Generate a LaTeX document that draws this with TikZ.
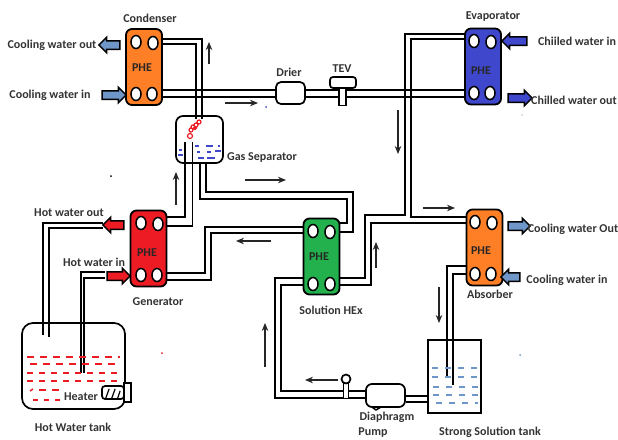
\documentclass[tikz,border=0pt]{standalone}
\usepackage{fontspec}
\setmainfont{Carlito}
\definecolor{phered}{RGB}{237,28,36}
\definecolor{pheorange}{RGB}{255,127,39}
\definecolor{pheblue}{RGB}{63,72,204}
\definecolor{phegreen}{RGB}{34,177,76}
\definecolor{waterblue}{RGB}{110,150,200}
\usetikzlibrary{arrows.meta,shapes.geometric,shapes.arrows,backgrounds}
\tikzset{
  phe/.style={draw=black, line width=1.8pt, rounded corners=6pt, minimum width=36, minimum height=76, inner sep=0pt},
  phetext/.style={inner sep=0pt, font=\bfseries\fontsize{12}{13}\selectfont, text=black!85},
  port/.style={ellipse, draw=black, line width=1.5pt, fill=white, minimum width=10, minimum height=13, inner sep=0pt},
  pipe/.style={line width=1.7pt, black},
  vessel/.style={draw=black, line width=1.7pt, inner sep=0pt},
  flowarrow/.style={-{Stealth[length=8pt, width=6.5pt]}, line width=1.2pt, black!85},
  blockarr/.style={single arrow, draw=black, line width=1.5pt, inner xsep=0pt, inner ysep=3.5pt, single arrow head extend=3.5pt, single arrow head indent=0pt},
  lbl/.style={font=\bfseries\fontsize{12}{13}\selectfont, text=black!80, inner sep=0pt},
}
\begin{document}
\begin{tikzpicture}[x=1pt, y=-1pt]
\useasboundingbox (0,0) rectangle (618,439);

% --- Plate heat exchangers ---
\node[phe, fill=pheorange] (cond) at (144,67) {};
\node[phe, fill=pheblue] (evap) at (483,66.5) {};
\node[phe, fill=phered] (genr) at (148.5,248.5) {};
\node[phe, fill=phegreen] (shex) at (321.5,256.5) {};
\node[phe, fill=pheorange] (absb) at (484.5,247.5) {};

% PHE text
\node[phetext] (condt) at (142,68) {PHE};
\node[phetext] (evapt) at (481,71) {PHE};
\node[phetext] (genrt) at (147,253) {PHE};
\node[phetext] (shext) at (319,257) {PHE};
\node[phetext] (absbt) at (481,251) {PHE};

% Ports
\node[port] (cond1) at (136,42) {};
\node[port] (cond2) at (153,43) {};
\node[port] (cond3) at (136,94) {};
\node[port] (cond4) at (152,94) {};
\node[port] (evap1) at (474,41) {};
\node[port] (evap2) at (491,42) {};
\node[port] (evap3) at (474,93) {};
\node[port] (evap4) at (490,93) {};
\node[port] (genr1) at (141,223) {};
\node[port] (genr2) at (158,224) {};
\node[port] (genr3) at (141,275) {};
\node[port] (genr4) at (157,275) {};
\node[port] (shex1) at (313,231) {};
\node[port] (shex2) at (330,232) {};
\node[port] (shex3) at (313,284) {};
\node[port] (shex4) at (330,284) {};
\node[port] (absb1) at (475,222) {};
\node[port] (absb2) at (492,223) {};
\node[port] (absb3) at (475,274) {};
\node[port] (absb4) at (491,274) {};

% --- Vessels ---
\node[vessel, rounded corners=7pt, minimum width=47, minimum height=47] (gsep) at (199.5,139.5) {};
\node[vessel, rounded corners=11pt, minimum width=103, minimum height=86] (hwtk) at (73.5,366) {};
\node[vessel, minimum width=53, minimum height=73] (sstk) at (454.5,376.5) {};
\node[vessel, fill=white, rounded corners=5pt, minimum width=29, minimum height=22] (drier) at (290.5,93) {};
\node[vessel, fill=white, rounded corners=6pt, minimum width=39, minimum height=23] (pump) at (385.5,395.5) {};
\node[vessel, fill=white, minimum width=7, minimum height=17] (tevs) at (342.5,97) {};
\node[vessel, fill=white, rounded corners=3pt, minimum width=26, minimum height=11] (tevc) at (343,82.5) {};
\node[vessel, fill=white, minimum width=5, minimum height=15, line width=1.2pt] (gaus) at (346,391) {};
\node[circle, vessel, fill=white, minimum size=9] (gaug) at (346,379) {};
\node[vessel, fill=white, minimum width=7, minimum height=19] (htre) at (127.5,392.5) {};
\node[vessel, fill=white, rounded corners=3pt, minimum width=22, minimum height=13] (htrb) at (113,392.5) {};
\draw[line width=1.2pt] (htrb.south west) ++(4,0) -- ++(4,-11) (htrb.south west) ++(10,0) -- ++(4,-11) (htrb.south west) ++(16,0) -- ++(3,-9);
\draw[line width=1.5pt, line join=round] (372,407) -- (376,410) -- (381,407);

% --- Free pipe ends and bends ---
\coordinate (hwo1) at (103,223);
\coordinate (hwo2) at (103,228);
\coordinate (hwi1) at (105,272);
\coordinate (hwi2) at (105,278);
\coordinate (bnd1) at (405,215);
\coordinate (bnd2) at (365,278);
\coordinate (bnd3) at (411,217);
\coordinate (bnd4) at (371,285);
\coordinate (bnd5) at (281,285);
\coordinate (bnd6) at (275,278);
\coordinate (bnd7) at (353,192);
\coordinate (bnd8) at (347,199);
\coordinate (bnd9) at (205,227);
\coordinate (bnd10) at (211,233);

% --- Pipes ---
\begin{scope}[on background layer]
% Condenser to gas separator
\draw[pipe] ([shift={(0,-4)}]cond2.center) -| ([shift={(2.5,4)}]gsep.north);
\draw[pipe] ([shift={(0,1)}]cond2.center) -| ([shift={(-3.5,4)}]gsep.north);
% Condenser to drier to evaporator
\draw[pipe] ([shift={(0,-4)}]cond4.center) -- ([shift={(0,-3)}]drier.west);
\draw[pipe] ([shift={(0,3)}]cond4.center) -- ([shift={(0,4)}]drier.west);
\draw[pipe] ([shift={(0,-3)}]drier.east) -- ([shift={(0,-3)}]evap3.center);
\draw[pipe] ([shift={(0,4)}]drier.east) -- ([shift={(0,4)}]evap3.center);
% Evaporator, absorber, solution HEx
\draw[pipe] ([shift={(0,-7)}]evap1.center) -| (bnd1) -| (bnd2) -- ([shift={(0,-6)}]shex4.center);
\draw[pipe] ([shift={(0,-2)}]evap1.center) -| (bnd3) -- ([shift={(0,-5)}]absb1.center);
\draw[pipe] ([shift={(0,1)}]absb1.center) -| (bnd4) -- ([shift={(0,1)}]shex4.center);
% Absorber to tank
\draw[pipe] ([shift={(0,-8)}]absb3.center) -| ([shift={(-7.5,0.5)}]sstk.center);
\draw[pipe] (absb3.center) -| ([shift={(-1.5,8.5)}]sstk.center);
% Tank to pump
\draw[pipe] ([shift={(2,19.5)}]sstk.west) -- ([shift={(0,0.5)}]pump.east);
\draw[pipe] ([shift={(2,25.5)}]sstk.west) -- ([shift={(0,6.5)}]pump.east);
% Pump to solution HEx
\draw[pipe] ([shift={(0,-4.5)}]pump.west) -| (bnd5) -- ([shift={(0,1)}]shex3.center);
\draw[pipe] ([shift={(0,2.5)}]pump.west) -| (bnd6) -- ([shift={(0,-6)}]shex3.center);
% Gas separator to solution HEx
\draw[pipe] ([shift={(6.5,0)}]gsep.south) |- (bnd7) |- (shex2.center);
\draw[pipe] ([shift={(0.5,0)}]gsep.south) |- (bnd8) |- ([shift={(0,-9)}]shex2.center);
% Gas separator to generator
\draw[pipe] ([shift={(-14.5,2.5)}]gsep.center) |- ([shift={(0,-7)}]genr2.center);
\draw[pipe] ([shift={(-7,2.5)}]gsep.center) |- ([shift={(0,2)}]genr2.center);
% Generator to solution HEx
\draw[pipe] ([shift={(0,-2)}]genr4.center) -| (bnd9) -- ([shift={(0,-4)}]shex1.center);
\draw[pipe] ([shift={(0,5)}]genr4.center) -| (bnd10) -- ([shift={(0,2)}]shex1.center);
% Hot water tank
\draw[pipe] (hwo1) -| ([shift={(-30.5,-31)}]hwtk.center);
\draw[pipe] (hwo2) -| ([shift={(-24.5,-29)}]hwtk.center);
\draw[pipe] (hwi1) -| ([shift={(7.5,7)}]hwtk.center);
\draw[pipe] (hwi2) -| ([shift={(10.5,7)}]hwtk.center);
\end{scope}

% --- Water levels ---
\draw[phered, line width=1.5pt, dash pattern=on 7pt off 6pt] (27,357) -- (120,357);
\draw[phered, line width=1.5pt, dash pattern=on 7pt off 6pt] (30,364) -- (119,364);
\draw[phered, line width=1.5pt, dash pattern=on 6pt off 6pt] (27,373) -- (119,373);
\draw[phered, line width=1.5pt, dash pattern=on 6pt off 6pt] (27,381) -- (118,381);
\draw[phered, line width=1.5pt, dash pattern=on 7pt off 6pt] (39,390) -- (65,390);
\draw[phered, line width=1.5pt] (30,391) -- (33,389);
\draw[phered, line width=1.5pt, dash pattern=on 5pt off 6pt] (33,400) -- (60,400);
\draw[waterblue, line width=1.5pt, dash pattern=on 6pt off 7pt] (432,368) -- (477,368);
\draw[waterblue, line width=1.5pt, dash pattern=on 6pt off 7pt] (432,377) -- (477,377);
\draw[waterblue, line width=1.5pt, dash pattern=on 6pt off 7pt] (433,387) -- (478,387);
\draw[waterblue, line width=1.5pt, dash pattern=on 6pt off 7pt] (433,395) -- (478,395);
\draw[waterblue, line width=1.5pt, dash pattern=on 6pt off 7pt] (436,403) -- (478,403);
\draw[pheblue, line width=1.3pt] (179,150) -- (182,150) (178,155) -- (183,155) (195,146) -- (199,146) (206,146) -- (213,146) (218,146) -- (220,146) (197,152) -- (200,152) (207,152) -- (211,152) (215,151) -- (221,151) (198,158) -- (204,158) (207,158) -- (215,158);

% Bubbles
\draw[phered, line width=1.2pt] (199,122) circle (2) (196,125) circle (2) (193,127) circle (2) (191,130) circle (2) (195,128) circle (1.5) (190,136) circle (2.5);

% Stray dots
\fill[black] (111,176) circle (1);
\fill[pheblue] (266,107) circle (1);
\fill[phered] (162,353) circle (1);
\fill[waterblue] (520,355) circle (1);
\fill[black!50] (522,115) circle (0.6);

% --- Flow arrows ---
\coordinate (flow1) at (225,103);
\coordinate (flow2) at (209,64);
\coordinate (flow3) at (245,180);
\coordinate (flow4) at (176,205);
\coordinate (flow5) at (398,110);
\coordinate (flow6) at (423,208);
\coordinate (flow7) at (271,241);
\coordinate (flow8) at (376,268);
\coordinate (flow9) at (265,367);
\coordinate (flow10) at (439,287);
\coordinate (flow11) at (338,380);
\draw[flowarrow] (flow1) -- ++(33,0);
\draw[flowarrow] (flow2) -- ++(0,-22);
\draw[flowarrow] (flow3) -- ++(41,0);
\draw[flowarrow] (flow4) -- ++(0,-33);
\draw[flowarrow] (flow5) -- ++(0,44);
\draw[flowarrow] (flow6) -- ++(32,0);
\draw[flowarrow] (flow7) -- ++(-35,0);
\draw[flowarrow] (flow8) -- ++(0,-26);
\draw[flowarrow] (flow9) -- ++(0,-44);
\draw[flowarrow] (flow10) -- ++(0,36);
\draw[flowarrow] (flow11) -- ++(-33,0);

% --- Block arrows ---
\node[blockarr, fill=waterblue, minimum height=21, shape border rotate=180] (cwo) at (111.5,45) {};
\node[blockarr, fill=waterblue, minimum height=24] (cwi) at (112,95) {};
\node[blockarr, fill=pheblue, minimum height=25, shape border rotate=180] (chi) at (516.5,41) {};
\node[blockarr, fill=pheblue, minimum height=24] (cho) at (518,98) {};
\node[blockarr, fill=waterblue, minimum height=22] (awo) at (517,226) {};
\node[blockarr, fill=waterblue, minimum height=19, shape border rotate=180] (awi) at (512.5,277) {};
\node[blockarr, fill=phered, minimum height=21, shape border rotate=180] (hwa) at (115.5,225) {};
\node[blockarr, fill=phered, minimum height=23] (hia) at (116.5,276) {};

% --- Labels ---
\node[lbl] (lcond) at (150,18) {Condenser};
\node[lbl] (lcwo) at (52,45) {Cooling water out};
\node[lbl] (lcwi) at (50,95) {Cooling water in};
\node[lbl] (ldrier) at (289,72) {Drier};
\node[lbl] (ltev) at (342,69) {TEV};
\node[lbl] (levap) at (493,17) {Evaporator};
\node[lbl] (lchi) at (577,41) {Chiiled water in};
\node[lbl] (lcho) at (574,100) {Chilled water out};
\node[lbl] (lgsep) at (262,158) {Gas Separator};
\node[lbl] (lhwo) at (69,213) {Hot water out};
\node[lbl] (lhwi) at (94,262) {Hot water in};
\node[lbl] (lgenr) at (158,302) {Generator};
\node[lbl] (lshex) at (331,310) {Solution HEx};
\node[lbl] (lawo) at (573,229) {Cooling water Out};
\node[lbl] (lawi) at (567,280) {Cooling water in};
\node[lbl] (labsb) at (490,294) {Absorber};
\node[lbl] (lpmp1) at (387,417) {Diaphragm};
\node[lbl] (lpmp2) at (373,433) {Pump};
\node[lbl] (lsstk) at (490,432) {Strong Solution tank};
\node[lbl] (lhwtk) at (73,427) {Hot Water tank};
\node[lbl] (lhtr) at (81,397) {Heater};

\end{tikzpicture}
\end{document}
